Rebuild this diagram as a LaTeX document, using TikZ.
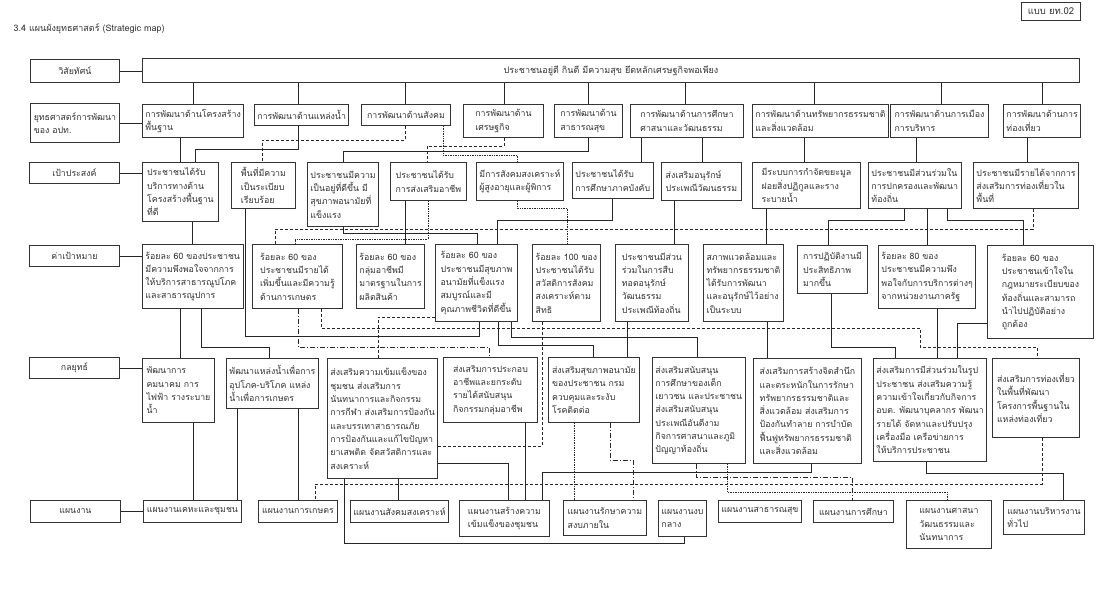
\documentclass[tikz,border=0pt]{standalone}
\usepackage{fontspec}
\setmainfont[Script=Thai]{Loma}
\begin{document}
\begin{tikzpicture}[x=1pt,y=-1pt,
  box/.style 2 args={draw=black!80,line width=0.9pt,anchor=north west,
    minimum width=#1pt,minimum height=#2pt,inner sep=3pt,align=left,
    font=\fontsize{8.8}{13.3}\selectfont,text=black!80},
  lbl/.style 2 args={box={#1}{#2},align=center},
  ln/.style={line width=0.7pt,draw=black!85},
  dsh/.style={ln,dash pattern=on 3pt off 2pt},
  dot/.style={ln,densely dotted},
  dshdot/.style={ln,dash pattern=on 5pt off 2pt on 1pt off 2pt}]
\useasboundingbox[fill=white] (0,0) rectangle (1103,594);
\node[anchor=west,font=\fontsize{9}{11}\selectfont,text=black!80] (title) at (10,29) {3.4 แผนผังยุทธศาสตร์ (Strategic map)};
\node[lbl={59}{18},font=\fontsize{9.5}{11}\selectfont] (form) at (1021,2) {แบบ ยท.02};

% row labels
\node[lbl={89}{23}] (VL) at (30,59) {วิสัยทัศน์};
\node[box={89}{39}] (SL) at (30,103) {ยุทธศาสตร์การพัฒนา\\ของ อปท.};
\node[lbl={90}{21}] (GL) at (29,162) {เป้าประสงค์};
\node[lbl={90}{21}] (TL) at (29,245) {ค่าเป้าหมาย};
\node[lbl={90}{21}] (StL) at (29,357) {กลยุทธ์};
\node[lbl={90}{22}] (PL) at (30,500) {แผนงาน};

% vision
\node[lbl={937}{24},font=\fontsize{9}{12}\selectfont] (V) at (142,58) {ประชาชนอยู่ดี กินดี มีความสุข ยึดหลักเศรษฐกิจพอเพียง};

% strategies
\node[box={89}{33}] (S1) at (142,104) {การพัฒนาด้านโครงสร้าง\\พื้นฐาน};
\node[box={91}{21}] (S2) at (254,104) {การพัฒนาด้านแหล่งน้ำ};
\node[box={89}{21}] (S3) at (361,104) {การพัฒนาด้านสังคม};
\node[box={80}{33}] (S4) at (463,104) {การพัฒนาด้าน\\เศรษฐกิจ};
\node[box={68}{33}] (S5) at (554,104) {การพัฒนาด้าน\\สาธารณสุข};
\node[box={113}{33}] (S6) at (630,104) {การพัฒนาด้านการศึกษา\\ศาสนาและวัฒนธรรม};
\node[box={128}{33}] (S7) at (752,104) {การพัฒนาด้านทรัพยากรธรรมชาติ\\และสิ่งแวดล้อม};
\node[box={98}{33}] (S8) at (890,104) {การพัฒนาด้านการเมือง\\การบริหาร};
\node[box={68}{33}] (S9) at (1003,104) {การพัฒนาด้านการ\\ท่องเที่ยว};

% goals
\node[box={76}{59}] (G1) at (142,162) {ประชาชนได้รับ\\บริการทางด้าน\\โครงสร้างพื้นฐาน\\ที่ดี};
\node[box={64}{46}] (G2) at (231,162) {พื้นที่มีความ\\เป็นระเบียบ\\เรียบร้อย};
\node[box={71}{64}] (G3) at (307,162) {ประชาชนมีความ\\เป็นอยู่ที่ดีขึ้น มี\\สุขภาพอนามัยที่\\แข็งแรง};
\node[box={76}{38}] (G4) at (390,162) {ประชาชนได้รับ\\การส่งเสริมอาชีพ};
\node[box={85}{38}] (G5) at (476,162) {มีการสังคมสงเคราะห์\\ผู้สูงอายุและผู้พิการ};
\node[box={80}{36}] (G6) at (572,162) {ประชาชนได้รับ\\การศึกษาภาคบังคับ};
\node[box={80}{38}] (G7) at (661,162) {ส่งเสริมอนุรักษ์\\ประเพณีวัฒนธรรม};
\node[box={108}{46}] (G8) at (752,162) {มีระบบการกำจัดขยะมูล\\ฝอยสิ่งปฏิกูลและราง\\ระบายน้ำ};
\node[box={85}{46}] (G9) at (868,162) {ประชาชนมีส่วนร่วมใน\\การปกครองและพัฒนา\\ท้องถิ่น};
\node[box={104}{46}] (G10) at (973,162) {ประชาชนมีรายได้จากการ\\ส่งเสริมการท่องเที่ยวใน\\พื้นที่};

% targets
\node[box={96}{64}] (T1) at (142,244) {ร้อยละ 60 ของประชาชน\\มีความพึงพอใจจากการ\\ให้บริการสาธารณูปโภค\\และสาธารณูปการ};
\node[box={90}{64}] (T2) at (252,244) {ร้อยละ 60 ของ\\ประชาชนมีรายได้\\เพิ่มขึ้นและมีความรู้\\ด้านการเกษตร};
\node[box={67}{64}] (T3) at (356,244) {ร้อยละ 60 ของ\\กลุ่มอาชีพมี\\มาตรฐานในการ\\ผลิตสินค้า};
\node[box={82}{77}] (T4) at (435,244) {ร้อยละ 60 ของ\\ประชาชนมีสุขภาพ\\อนามัยที่แข็งแรง\\สมบูรณ์และมี\\คุณภาพชีวิตที่ดีขึ้น};
\node[box={68}{77}] (T5) at (532,244) {ร้อยละ 100 ของ\\ประชาชนได้รับ\\สวัสดิการสังคม\\สงเคราะห์ตาม\\สิทธิ};
\node[box={73}{77}] (T6) at (615,244) {ประชาชนมีส่วน\\ร่วมในการสืบ\\ทอดอนุรักษ์\\วัฒนธรรม\\ประเพณีท้องถิ่น};
\node[box={80}{77}] (T7) at (703,244) {สภาพแวดล้อมและ\\ทรัพยากรธรรมชาติ\\ได้รับการพัฒนา\\และอนุรักษ์ไว้อย่าง\\เป็นระบบ};
\node[box={70}{48}] (T8) at (797,245) {การปฏิบัติงานมี\\ประสิทธิภาพ\\มากขึ้น};
\node[box={97}{63}] (T9) at (878,245) {ร้อยละ 80 ของ\\ประชาชนมีความพึง\\พอใจกับการบริการต่างๆ\\จากหน่วยงานภาครัฐ};
\node[box={106}{93}] (T10) at (987,245) {ร้อยละ 60 ของ\\ประชาชนเข้าใจใน\\กฎหมายระเบียบของ\\ท้องถิ่นและสามารถ\\นำไปปฏิบัติอย่าง\\ถูกต้อง};

% tactics
\node[box={72}{64}] (St1) at (142,358) {พัฒนาการ\\คมนาคม การ\\ไฟฟ้า รางระบาย\\น้ำ};
\node[box={90}{50}] (St2) at (226,358) {พัฒนาแหล่งน้ำเพื่อการ\\อุปโภค-บริโภค แหล่ง\\น้ำเพื่อการเกษตร};
\node[box={106}{120}] (St3) at (327,358) {ส่งเสริมความเข้มแข็งของ\\ชุมชน ส่งเสริมการ\\นันทนาการและกิจกรรม\\การกีฬา ส่งเสริมการป้องกัน\\และบรรเทาสาธารณภัย\\การป้องกันและแก้ไขปัญหา\\ยาเสพติด จัดสวัสดิการและ\\สงเคราะห์};
\node[box={94}{65}] (St4) at (443,357) {ส่งเสริมการประกอบ\\อาชีพและยกระดับ\\รายได้สนับสนุน\\กิจกรรมกลุ่มอาชีพ};
\node[box={91}{65}] (St5) at (548,357) {ส่งเสริมสุขภาพอนามัย\\ของประชาชน กรม\\ควบคุมและระงับ\\โรคติดต่อ};
\node[box={89}{106}] (St6) at (652,357) {ส่งเสริมสนับสนุน\\การศึกษาของเด็ก\\เยาวชน และประชาชน\\ส่งเสริมสนับสนุน\\ประเพณีอันดีงาม\\กิจการศาสนาและภูมิ\\ปัญญาท้องถิ่น};
\node[box={108}{105}] (St7) at (753,358) {ส่งเสริมการสร้างจิตสำนึก\\และตระหนักในการรักษา\\ทรัพยากรธรรมชาติและ\\สิ่งแวดล้อม ส่งเสริมการ\\ป้องกันทำลาย การบำบัด\\ฟื้นฟูทรัพยากรธรรมชาติ\\และสิ่งแวดล้อม};
\node[box={109}{103}] (St8) at (873,358) {ส่งเสริมการมีส่วนร่วมในรูป\\ประชาชน ส่งเสริมความรู้\\ความเข้าใจเกี่ยวกับกิจการ\\อบต. พัฒนาบุคลากร พัฒนา\\รายได้ จัดหาและปรับปรุง\\เครื่องมือ เครือข่ายการ\\ให้บริการประชาชน};
\node[box={87}{79}] (St9) at (992,358) {ส่งเสริมการท่องเที่ยว\\ในพื้นที่พัฒนา\\โครงการพื้นฐานใน\\แหล่งท่องเที่ยว};

% plans
\node[box={98}{22}] (P1) at (143,500) {แผนงานเคหะและชุมชน};
\node[box={79}{22}] (P2) at (258,500) {แผนงานการเกษตร};
\node[box={95}{22}] (P3) at (350,500) {แผนงานสังคมสงเคราะห์};
\node[box={90}{36}] (P4) at (459,500) {แผนงานสร้างความ\\เข้มแข็งของชุมชน};
\node[box={83}{35}] (P5) at (563,500) {แผนงานรักษาความ\\สงบภายใน};
\node[box={48}{36}] (P6) at (658,500) {แผนงานงบ\\กลาง};
\node[box={83}{22}] (P7) at (718,500) {แผนงานสาธารณสุข};
\node[box={80}{22}] (P8) at (813,500) {แผนงานการศึกษา};
\node[box={85}{48}] (P9) at (906,500) {แผนงานศาสนา\\วัฒนธรรมและ\\นันทนาการ};
\node[box={81}{34}] (P10) at (1003,500) {แผนงานบริหารงาน\\ทั่วไป};

% labels to first boxes
\foreach \a/\b in {VL/V,SL/S1,GL/G1,TL/T1,StL/St1,PL/P1}
  \draw[ln] (\a.east) -- (\a.east -| \b.west);

% vision to strategies
\foreach \n/\x in {S1/193,S2/298,S3/405,S4/504,S5/588,S6/685,S7/814,S8/941,S9/1042}
  \draw[ln] (V.south -| \x,0) -- (\n.north -| \x,0);

% strategies to goals
\draw[ln] (S1.south -| 180,0) -- (G1.north -| 180,0);
\draw[ln] (S2.south -| 298,0) |- (195,149) -- (G1.north -| 195,0);
\draw[dsh] (S3.south -| 405,0) |- (262,140) -- (G2.north -| 262,0);
\draw[dot] (S3.south -| 443,0) |- (517,155) -- (G5.north -| 517,0);
\draw[dsh] (S4.south -| 504,0) |- (427,146) -- (G4.north -| 427,0);
\draw[ln] (S5.south -| 588,0) |- (343,151) -- (G3.north -| 343,0);
\draw[ln] (S6.south -| 641,0) -- (G6.north -| 641,0);
\draw[ln] (S6.south -| 702,0) -- (G7.north -| 702,0);
\draw[ln] (S7.south -| 804,0) -- (G8.north -| 804,0);
\draw[ln] (S8.south -| 916,0) -- (G9.north -| 916,0);
\draw[ln] (S9.south -| 1027,0) -- (G10.north -| 1027,0);

% goals to targets
\draw[ln] (G1.south -| 192,0) -- (T1.north -| 192,0);
\draw[ln] (G2.south -| 245,0) |- (479,336) -- (T4.south -| 479,0);
\draw[ln] (G3.south -| 343,0) |- (477,233) -- (T4.north -| 477,0);
\draw[ln] (G4.south -| 405,0) -- (T3.north -| 405,0);
\draw[dot] (G4.south -| 428,0) |- (295,239) -- (T2.north -| 295,0);
\draw[dot] (G5.south -| 517,0) |- (567,208) -- (T5.north -| 567,0);
\draw[ln] (G6.south -| 612,0) |- (497,220) -- (T4.north -| 497,0);
\draw[ln] (G7.south -| 674,0) -- (T6.north -| 674,0);
\draw[ln] (G8.south -| 766,0) -- (T7.north -| 766,0);
\draw[ln] (G9.south -| 904,0) |- (828,220) -- (T8.north -| 828,0);
\draw[ln] (G9.south -| 927,0) -- (T9.north -| 927,0);
\draw[ln] (G9.south -| 947,0) |- (1023,220) -- (T10.north -| 1023,0);
\draw[dsh] (G10.south -| 1033,0) |- (275,229) -- (T2.north -| 275,0);

% targets to tactics
\draw[ln] (T1.south -| 180,0) -- (St1.north -| 180,0);
\draw[ln] (T1.south -| 201,0) |- (269,347) -- (St2.north -| 269,0);
\draw[dshdot] (T2.south -| 298,0) |- (489,347) -- (St4.north -| 489,0);
\draw[dsh] (T2.south -| 321,0) |- (920,328) |- (1037,347) -- (St9.north -| 1037,0);
\draw[dsh] (T4.west |- 0,317) -| (St3.north -| 378,0);
\draw[ln] (T4.south -| 498,0) |- (593,345) -- (St5.north -| 593,0);
\draw[ln] (T4.south -| 511,0) |- (697,337) -- (St6.north -| 697,0);
\draw[dsh] (T5.south -| 542,0) |- (St3.east |- 0,446);
\draw[ln] (T6.south -| 627,0) -- (St5.north -| 627,0);
\draw[ln] (T7.south -| 767,0) -- (St7.north -| 767,0);
\draw[ln] (T8.south -| 831,0) |- (895,347) -- (St8.north -| 895,0);
\draw[ln] (T9.south -| 937,0) -- (St8.north -| 937,0);
\draw[ln] (T10.west |- 0,323) -| (St8.north -| 957,0);

% tactics to plans
\draw[ln] (St1.south -| 193,0) -- (P1.north -| 193,0);
\draw[ln] (St2.south -| 237,0) -- (P1.north -| 237,0);
\draw[ln] (St2.south -| 298,0) -- (P2.north -| 298,0);
\draw[ln] (St3.south -| 398,0) -- (P3.north -| 398,0);
\draw[ln] (St3.south -| 344,0) |- (684,543) -- (P6.south -| 684,0);
\draw[ln] (St3.east |- 0,463) -| (P4.north -| 508,0);
\draw[ln] (St4.south -| 525,0) -- (P4.north -| 525,0);
\draw[ln] (St7.south -| 811,0) |- (542,472) -- (P4.north -| 542,0);
\draw[ln] (St8.south -| 926,0) |- (1063,473) -- (P10.north -| 1063,0);
\draw[dsh] (St9.south -| 1042,0) |- (315,484) -- (P2.north -| 315,0);
\draw[dshdot] (St6.south -| 696,0) |- (852,477) -- (P8.north -| 852,0);
\draw[dot] (St6.south -| 727,0) |- (947,492) -- (P9.north -| 947,0);
\draw[dot] (St5.south -| 574,0) -- (P5.north -| 574,0);
\draw[dshdot] (St5.south -| 610,0) |- (633,460) -- (P5.north -| 633,0);
\end{tikzpicture}
\end{document}
